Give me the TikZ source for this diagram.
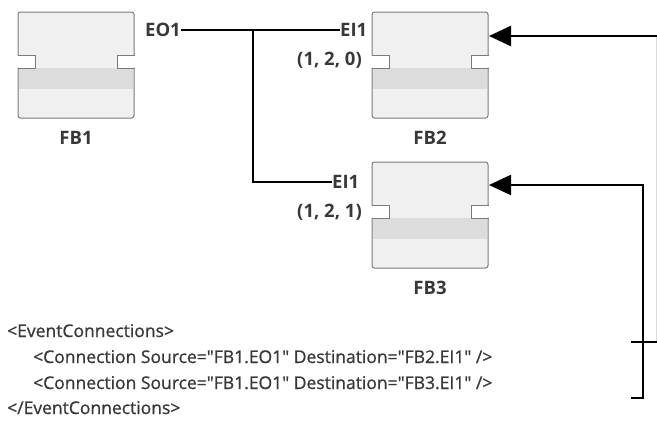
\documentclass[tikz,border=0pt]{standalone}
\usepackage{fontspec}
\newfontfamily\xmlf[FakeBold=0.8]{Open Sans}
\newfontfamily\lblf{Open Sans}
\usetikzlibrary{arrows.meta}
\definecolor{boxfill}{HTML}{F0F0F0}
\definecolor{bandfill}{HTML}{DCDCDC}
\definecolor{boxline}{HTML}{7A7A7A}
\definecolor{txt}{HTML}{383838}
\tikzset{
  conn/.style={line width=2.3pt, black},
  arr/.style={conn, -{Triangle[length=22pt,width=20pt]}},
  lbl/.style={inner sep=0pt, text=txt, font=\lblf\fontsize{18.5}{21}\selectfont\bfseries},
  xml/.style={inner sep=0pt, anchor=base west, text=txt, font=\xmlf\fontsize{17.5}{20}\selectfont},
  fbnode/.style={minimum width=116pt, minimum height=106pt, inner sep=0pt, draw=none},
  outl/.style={boxline, line width=1pt, line cap=rect},
}
\newcommand\fbdraw[3]{% name, left, top
  \node[fbnode] (#1) at (#2+58,#3+53) {};
  \begin{scope}[shift={(#2,#3)}]
    \fill[boxfill, rounded corners=2.5pt] (0,0) rectangle (116,106);
    \fill[bandfill] (0.6,56) rectangle (115.4,77);
    \fill[white] (0,43) rectangle (17,56);
    \fill[white] (99,43) rectangle (116,56);
    \draw[outl, rounded corners=2.5pt] (0,43) -- (0,0) -- (116,0) -- (116,43);
    \draw[outl] (116,43) -- (99,43) -- (99,56) -- (116,56);
    \draw[outl, rounded corners=2.5pt] (116,56) -- (116,106) -- (0,106) -- (0,56);
    \draw[outl] (0,56) -- (17,56) -- (17,43) -- (0,43);
  \end{scope}
}
\begin{document}
\begin{tikzpicture}[x=1pt,y=-1pt]
\useasboundingbox[fill=white] (0,0) rectangle (657,423);
\fbdraw{fb1}{18}{12}
\fbdraw{fb2}{372}{12}
\fbdraw{fb3}{372}{162}

\node[lbl] (fb1lab) at (76,138) {FB1};
\node[lbl] (fb2lab) at (430,138) {FB2};
\node[lbl] (fb3lab) at (430,288) {FB3};

\node[lbl, anchor=east] (eo1) at (181,30) {EO1};
\node[lbl, anchor=west] (ei1a) at (340,30) {EI1};
\node[lbl, anchor=west] (ei1b) at (332,182) {EI1};
\node[lbl, anchor=east] (t120) at (362,60) {(1, 2, 0)};
\node[lbl, anchor=east] (t121) at (362,212) {(1, 2, 1)};

\coordinate (j) at (253,30);
\draw[conn] (eo1.east) -- (ei1a.west);
\draw[conn] (j) |- (ei1b.west);

\coordinate (fb2in) at (489,36);
\coordinate (fb3in) at (489,185);
\coordinate (r1) at (658,36);
\coordinate (r2) at (643,185);
\coordinate (b3) at (631,398);
\coordinate (k1) at (631,342);
\coordinate (k2) at (657,342);

\draw[gray!30, line width=1pt] (656.5,36) -- (656.5,342);
\draw[arr] (r1) -- (fb2in);
\draw[arr] (b3) -| (r2) -- (fb3in);
\draw[conn] (k1) -- (k2);

\node[xml] (x1) at (7,337) {<EventConnections>};
\node[xml] (x2) at (33,363) {<Connection Source="FB1.EO1" Destination="FB2.EI1" />};
\node[xml] (x3) at (33,389) {<Connection Source="FB1.EO1" Destination="FB3.EI1" />};
\node[xml] (x4) at (7,414) {</EventConnections>};
\end{tikzpicture}
\end{document}
